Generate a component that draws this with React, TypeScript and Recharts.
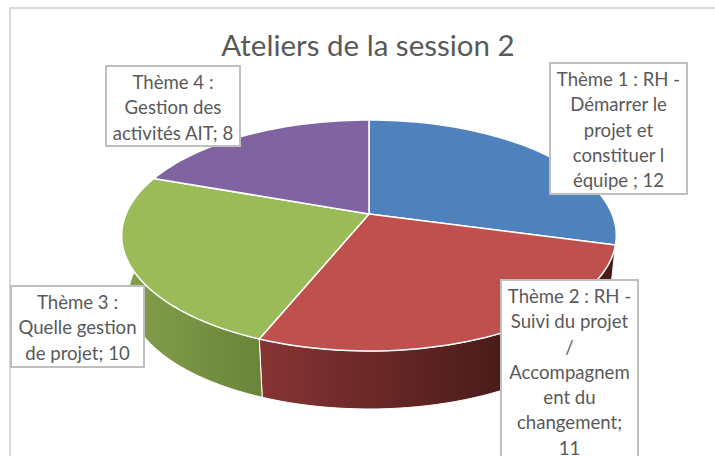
import React from 'react'
import { PieChart, Pie } from 'recharts'

const themes = ['Thème 1', 'Thème 2', 'Thème 3', 'Thème 4']
const sessions = [12, 11, 10, 8]
const topColors = ['#4f81bd', '#c0504d', '#9bbb59', '#8064a2']
const wallColors = ['url(#wall-blue)', 'url(#wall-red)', 'url(#wall-green)', 'url(#wall-purple)']

const chartTitle = 'Ateliers de la session 2'
const labelLines = [
  ['Thème 1 : RH -', 'Démarrer le', 'projet et', 'constituer l', 'équipe ; 12'],
  ['Thème 2 : RH -', 'Suivi du projet', '/', 'Accompagnem', 'ent du', 'changement;', '11'],
  ['Thème 3 :', 'Quelle gestion', 'de projet; 10'],
  ['Thème 4 :', 'Gestion des', 'activités AIT; 8'],
]
const labelBoxes = [
  { left: 549, top: 62, width: 139, height: 133 },
  { left: 500, top: 279, width: 139, height: 200 },
  { left: 10, top: 285, width: 135, height: 83 },
  { left: 105, top: 65, width: 136, height: 82 },
]

const topFace = topColors.map((fill, i) => ({ name: themes[i], value: sessions[i], fill }))
const wallFace = wallColors.map((fill, i) => ({ name: themes[i], value: sessions[i], fill }))

// the tilted disc: a flat circle seen through a camera, far edge smaller than near edge
const CENTER_X = 369
const TOP_Y = 214
const BOTTOM_Y = 275.7
const BOTTOM_SCALE = 0.973
const RADIUS = 243
const DEPTH_SCALE = 111.5
const PERSPECTIVE = 0.186

function project(angle: number, centerY: number, scale: number) {
  const rad = (angle * Math.PI) / 180
  const u = Math.cos(rad)
  const v = Math.sin(rad)
  const w = 1 + PERSPECTIVE * v
  return [CENTER_X + (scale * RADIUS * u) / w, centerY - (scale * DEPTH_SCALE * v) / w]
}

function arcPoints(from: number, to: number, centerY: number, scale: number) {
  const steps = Math.max(2, Math.ceil(Math.abs(to - from) / 2))
  const points: string[] = []
  for (let i = 0; i <= steps; i++) {
    const [x, y] = project(from + ((to - from) * i) / steps, centerY, scale)
    points.push(`${x.toFixed(2)} ${y.toFixed(2)}`)
  }
  return points
}

function TopSector({ startAngle, endAngle, fill }: any) {
  const arc = arcPoints(startAngle, endAngle, TOP_Y, 1)
  const d = `M ${CENTER_X} ${TOP_Y} L ${arc.join(' L ')} Z`
  return <path d={d} fill={fill} stroke="#ffffff" strokeWidth={1.5} strokeLinejoin="round" />
}

function WallSector({ startAngle, endAngle, fill }: any) {
  const upper = arcPoints(startAngle, endAngle, TOP_Y, 1)
  const lower = arcPoints(endAngle, startAngle, BOTTOM_Y, BOTTOM_SCALE)
  const d = `M ${upper.join(' L ')} L ${lower.join(' L ')} Z`
  return <path d={d} fill={fill} stroke="#ffffff" strokeWidth={1} strokeLinejoin="round" />
}

export default function App() {
  return (
    <div
      style={{
        position: 'absolute',
        left: 0,
        top: 0,
        width: 715,
        height: 456,
        overflow: 'hidden',
        background: '#ffffff',
        fontFamily: 'Lato, sans-serif',
        color: '#595959',
      }}
    >
      <div
        style={{
          position: 'absolute',
          left: 9,
          top: 7,
          width: 800,
          height: 600,
          border: '2px solid #d9d9d9',
        }}
      />
      <div style={{ position: 'absolute', left: 0, top: 0 }}>
        <PieChart width={715} height={456} margin={{ top: 0, right: 0, bottom: 0, left: 0 }}>
          <defs>
            <linearGradient id="wall-blue" gradientUnits="userSpaceOnUse" x1="560" y1="0" x2="620" y2="0">
              <stop offset="0%" stopColor="#2a4565" />
              <stop offset="100%" stopColor="#223850" />
            </linearGradient>
            <linearGradient id="wall-red" gradientUnits="userSpaceOnUse" x1="260" y1="0" x2="505" y2="0">
              <stop offset="0%" stopColor="#873434" />
              <stop offset="100%" stopColor="#491b19" />
            </linearGradient>
            <linearGradient id="wall-green" gradientUnits="userSpaceOnUse" x1="123" y1="0" x2="262" y2="0">
              <stop offset="0%" stopColor="#84a04b" />
              <stop offset="100%" stopColor="#6a843a" />
            </linearGradient>
            <linearGradient id="wall-purple" gradientUnits="userSpaceOnUse" x1="123" y1="0" x2="369" y2="0">
              <stop offset="0%" stopColor="#5c4875" />
              <stop offset="100%" stopColor="#5c4875" />
            </linearGradient>
          </defs>
          <Pie
            data={wallFace}
            dataKey="value"
            nameKey="name"
            cx={CENTER_X}
            cy={TOP_Y}
            outerRadius={RADIUS}
            startAngle={90}
            endAngle={-270}
            shape={WallSector}
            isAnimationActive={false}
          />
          <Pie
            data={topFace}
            dataKey="value"
            nameKey="name"
            cx={CENTER_X}
            cy={TOP_Y}
            outerRadius={RADIUS}
            startAngle={90}
            endAngle={-270}
            shape={TopSector}
            isAnimationActive={false}
          />
        </PieChart>
      </div>
      <div
        style={{
          position: 'absolute',
          left: 0,
          width: 736,
          top: 23,
          textAlign: 'center',
          fontSize: 29.5,
          lineHeight: '44px',
          whiteSpace: 'nowrap',
        }}
      >
        {chartTitle}
      </div>
      {labelLines.map((lines, i) => (
        <div
          key={themes[i]}
          style={{
            position: 'absolute',
            boxSizing: 'border-box',
            ...labelBoxes[i],
            background: '#ffffff',
            border: '2px solid #bfbfbf',
            paddingTop: 3,
            textAlign: 'center',
            fontSize: 18.6,
            lineHeight: '25.3px',
            whiteSpace: 'nowrap',
          }}
        >
          {lines.map((line, j) => (
            <div key={j}>{line}</div>
          ))}
        </div>
      ))}
    </div>
  )
}
